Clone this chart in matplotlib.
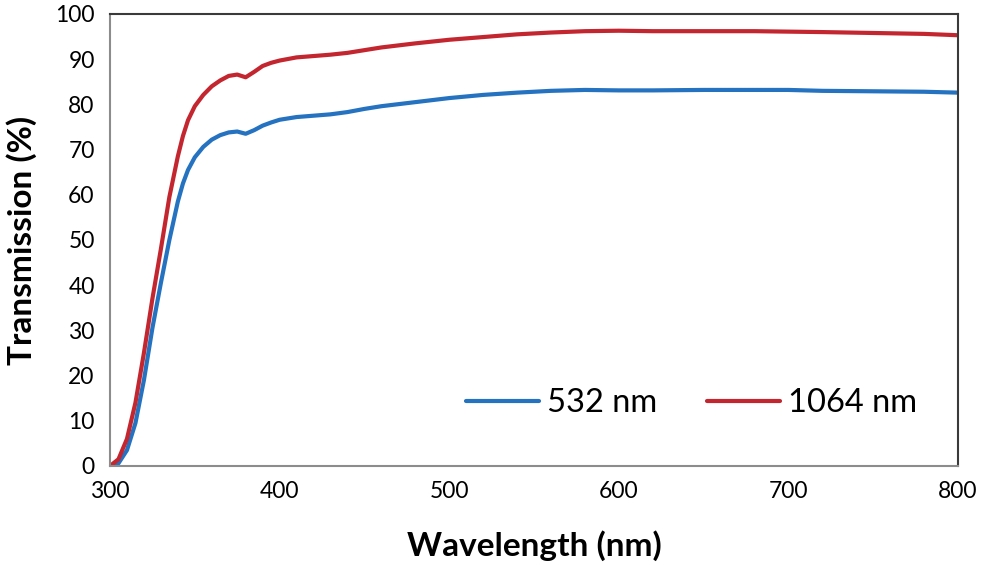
import matplotlib
matplotlib.use("Agg")
import matplotlib.pyplot as plt

wavelength = [300, 305, 310, 315, 320, 325, 330, 335, 340, 343, 346, 350, 355, 360, 365,
              370, 375, 380, 385, 390, 395, 400, 410, 420, 430, 440, 450, 460, 480,
              500, 520, 540, 560, 580, 600, 620, 650, 680, 700, 720, 750, 780, 800]

t_532 = [0, 0.6, 3.5, 9.5, 19, 30.5, 40.5, 50, 58.5, 62.5, 65.5, 68.3, 70.6, 72.2, 73.2,
         73.8, 74.0, 73.5, 74.3, 75.3, 76.0, 76.6, 77.2, 77.5, 77.8, 78.3, 79.0, 79.6, 80.5,
         81.4, 82.1, 82.6, 83.0, 83.2, 83.1, 83.1, 83.2, 83.2, 83.2, 83.0, 82.9, 82.8, 82.6]

t_1064 = [0, 1.5, 6, 14, 25, 37, 48, 59.5, 68.5, 73, 76.5, 79.6, 82.1, 84, 85.3,
          86.3, 86.6, 86.0, 87.2, 88.5, 89.2, 89.7, 90.4, 90.7, 91.0, 91.4, 92.0, 92.6, 93.5,
          94.3, 94.9, 95.5, 95.9, 96.2, 96.3, 96.2, 96.2, 96.2, 96.1, 96.0, 95.8, 95.6, 95.3]

series_labels = ["532 nm", "1064 nm"]
x_ticks = [300, 400, 500, 600, 700, 800]
y_ticks = [0, 10, 20, 30, 40, 50, 60, 70, 80, 90, 100]

plt.rcParams['font.family'] = ['Lato', 'DejaVu Sans']

fig = plt.figure(figsize=(9.87, 5.65), dpi=100)
ax = fig.add_axes([110/987, 1 - 466/565, 848/987, 452/565])

ax.plot(wavelength, t_532, color='#2472c0', lw=3.0, label=series_labels[0],
        solid_capstyle='round', solid_joinstyle='round')
ax.plot(wavelength, t_1064, color='#c3262f', lw=3.0, label=series_labels[1],
        solid_capstyle='round', solid_joinstyle='round')

ax.set_xlim(300, 800)
ax.set_ylim(0, 100)
ax.set_xticks(x_ticks)
ax.set_yticks(y_ticks)
ax.tick_params(axis='both', length=0, labelsize=16.5, colors='black')
ax.tick_params(axis='x', pad=11)
ax.tick_params(axis='y', pad=11)

for s in ['left', 'bottom']:
    ax.spines[s].set_color('#8c8c8c')
    ax.spines[s].set_linewidth(1.5)
for s in ['top', 'right']:
    ax.spines[s].set_color('#3a3a3a')
    ax.spines[s].set_linewidth(1.5)

ax.set_xlabel('Wavelength (nm)', fontsize=24, fontweight='bold', labelpad=20)
ax.set_ylabel('Transmission (%)', fontsize=24, fontweight='bold', labelpad=13)

leg = ax.legend(ncol=2, frameon=False, fontsize=23.5, loc='center left',
                bbox_to_anchor=(0.42, 0.139), handlelength=2.24, handletextpad=0.25,
                columnspacing=1.5, borderpad=0, borderaxespad=0)

fig.savefig('out.png', dpi=100)
